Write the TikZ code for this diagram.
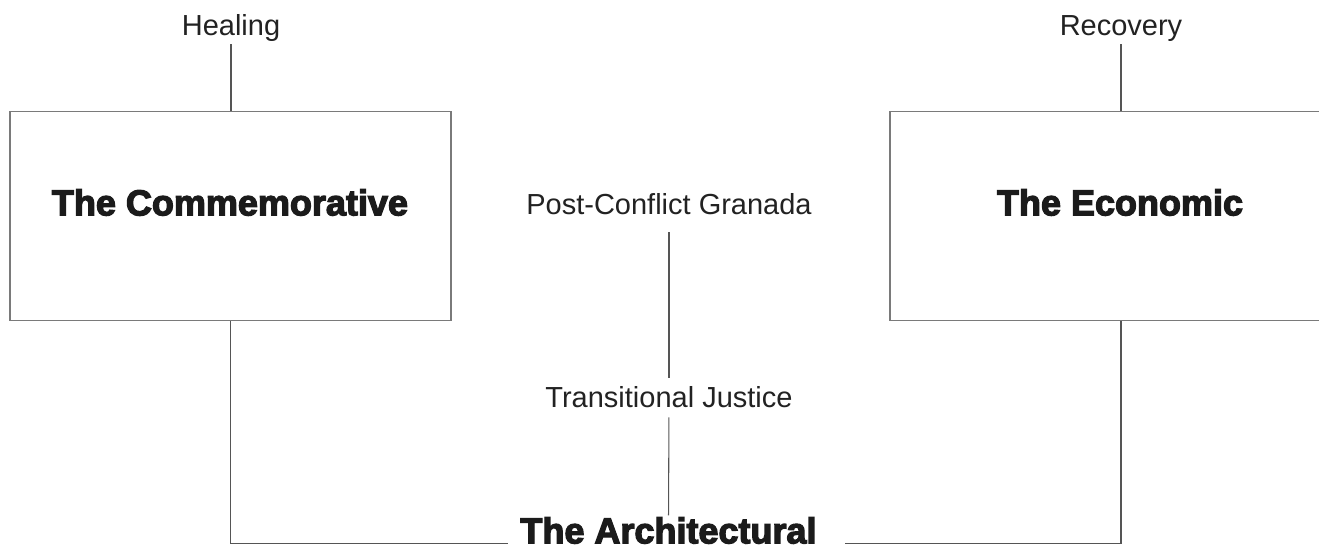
\documentclass[tikz,border=0pt]{standalone}
\usepackage{fontspec}
\setmainfont{Liberation Sans}
\newfontfamily\heavyfont[FakeBold=3.5]{Liberation Sans Bold}
\definecolor{ink}{HTML}{222222}
\definecolor{boxline}{HTML}{7A7A7A}
\definecolor{conline}{HTML}{555555}
\begin{document}
\begin{tikzpicture}[x=0.75pt,y=-0.75pt,
  lbl/.style={font=\fontsize{21.75pt}{24pt}\selectfont, text=ink, inner sep=0pt, text height=15pt, text depth=0pt},
  heavy/.style={font=\heavyfont\fontsize{27pt}{30pt}\selectfont, text=ink!80!black, inner sep=0pt, text height=18.5pt, text depth=0pt},
  panel/.style={draw=boxline, line width=1.1pt, fill=white, inner sep=0pt},
  con/.style={draw=conline, line width=0.8pt},
  frame/.style={draw=boxline!70!black, line width=1.1pt}]
\useasboundingbox (0,0) rectangle (1319,559);
\clip (0,0) rectangle (1319,559);
% boxes
\node[panel, minimum width=330.75pt, minimum height=156.75pt] (comm) at (230.5,216) {};
\node[panel, minimum width=346.5pt, minimum height=156.75pt] (econ) at (1121,216) {};
\node[heavy] (commt) at (230,203) {The Commemorative};
\node[heavy] (econt) at (1120,203) {The Economic};
% top labels
\node[lbl] (heal) at (231,26) {Healing};
\node[lbl] (rec) at (1121,26) {Recovery};
% centre labels
\node[lbl] (post) at (669,205) {Post-Conflict Granada};
\node[lbl] (trans) at (669,397) {Transitional Justice};
\node[heavy] (arch) at (668.5,531) {The Architectural};
\coordinate (archL) at ([xshift=-9pt]arch.south west);
\coordinate (archR) at ([xshift=21pt]arch.south east);
% connectors
\draw[con] ([yshift=-6pt]heal.south) -- (heal.south |- comm.north);
\draw[con] ([yshift=-6pt]rec.south) -- (rec.south |- econ.north);
\draw[con, shorten <=12.75pt, shorten >=6.75pt] (post.south -| trans.north) -- (trans.north);
\draw[con, shorten <=7.5pt, shorten >=2.25pt] (trans.south) -- (arch.north);
\draw[frame] (comm.south) |- (archL);
\draw[frame] (econ.south) |- (archR);
\end{tikzpicture}
\end{document}
